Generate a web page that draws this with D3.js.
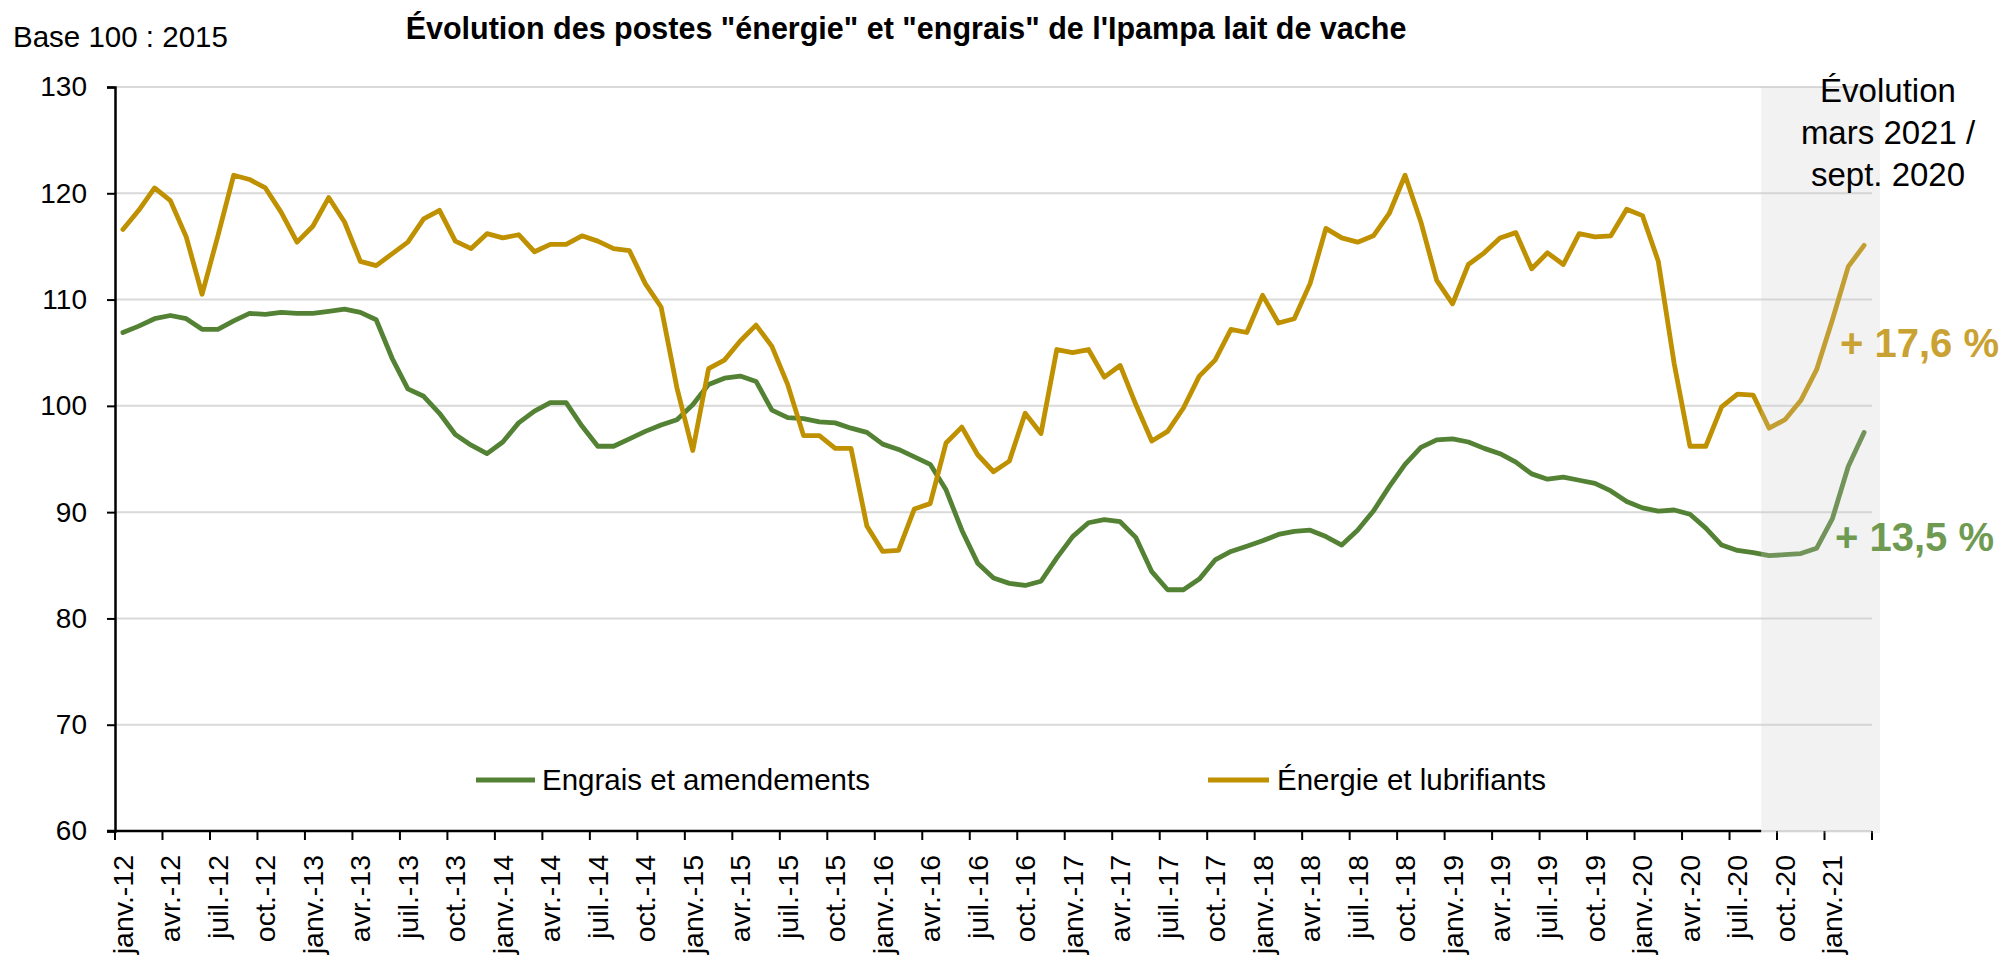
<!DOCTYPE html>
<html>
<head>
<meta charset="utf-8">
<script src="https://cdn.jsdelivr.net/npm/d3@7"></script>
<style>
  html, body { margin: 0; padding: 0; background: #fff; }
  svg { display: block; }
  text { font-family: "Liberation Sans", Arial, Helvetica, sans-serif; }
</style>
</head>
<body>
<svg id="chart" width="2006" height="955"></svg>
<script>
// ---------- DATA ----------
const monthNames = ["janv.", "févr.", "mars", "avr.", "mai", "juin", "juil.", "août", "sept.", "oct.", "nov.", "déc."];
const years = ["12", "13", "14", "15", "16", "17", "18", "19", "20", "21"];
const lastMonthCount = 3; // data runs to mars 2021

const categories = [];
years.forEach((yy, yi) => {
  const n = yi === years.length - 1 ? lastMonthCount : 12;
  for (let m = 0; m < n; m++) categories.push(monthNames[m] + "-" + yy);
});

const engrais = [
  106.9, 107.5, 108.2, 108.5, 108.2, 107.2, 107.2, 108.0, 108.7, 108.6, 108.8, 108.7,
  108.7, 108.9, 109.1, 108.8, 108.1, 104.5, 101.6, 100.9, 99.3, 97.3, 96.3, 95.5,
  96.6, 98.4, 99.5, 100.3, 100.3, 98.1, 96.2, 96.2, 96.9, 97.6, 98.2, 98.7,
  100.1, 102.0, 102.6, 102.8, 102.3, 99.6, 98.9, 98.8, 98.5, 98.4, 97.9, 97.5,
  96.4, 95.9, 95.2, 94.5, 92.1, 88.3, 85.2, 83.8, 83.3, 83.1, 83.5, 85.7,
  87.7, 89.0, 89.3, 89.1, 87.6, 84.4, 82.7, 82.7, 83.7, 85.5, 86.3, 86.8,
  87.3, 87.9, 88.2, 88.3, 87.7, 86.9, 88.3, 90.1, 92.4, 94.5, 96.1, 96.8,
  96.9, 96.6, 96.0, 95.5, 94.7, 93.6, 93.1, 93.3, 93.0, 92.7, 92.0, 91.0,
  90.4, 90.1, 90.2, 89.8, 88.5, 86.9, 86.4, 86.2, 85.9, 86.0, 86.1, 86.6,
  89.4, 94.3, 97.5
];

const energie = [
  116.6, 118.4, 120.5, 119.3, 115.9, 110.5, 116.0, 121.7, 121.3, 120.5, 118.2, 115.4,
  116.9, 119.6, 117.3, 113.6, 113.2, 114.3, 115.4, 117.6, 118.4, 115.5, 114.8, 116.2,
  115.8, 116.1, 114.5, 115.2, 115.2, 116.0, 115.5, 114.8, 114.6, 111.5, 109.3, 101.7,
  95.8, 103.5, 104.3, 106.1, 107.6, 105.6, 102.0, 97.2, 97.2, 96.0, 96.0, 88.7,
  86.3, 86.4, 90.3, 90.8, 96.5, 98.0, 95.4, 93.8, 94.8, 99.3, 97.4, 105.3,
  105.0, 105.3, 102.7, 103.8, 100.1, 96.7, 97.6, 99.8, 102.8, 104.3, 107.2, 106.9,
  110.4, 107.8, 108.2, 111.5, 116.7, 115.8, 115.4, 116.0, 118.1, 121.7, 117.3, 111.8,
  109.6, 113.3, 114.4, 115.8, 116.3, 112.9, 114.4, 113.3, 116.2, 115.9, 116.0, 118.5,
  117.9, 113.6, 104.0, 96.2, 96.2, 99.9, 101.1, 101.0, 97.9, 98.7, 100.5, 103.4,
  108.1, 113.1, 115.1
];

const seriesNames = ["Engrais et amendements", "Énergie et lubrifiants"];
const yTicks = [60, 70, 80, 90, 100, 110, 120, 130];
const labelMonths = ["janv.", "avr.", "juil.", "oct."];
const shadeStart = "sept.-20";
const title = "Évolution des postes \"énergie\" et \"engrais\" de l'Ipampa lait de vache";
const yUnit = "Base 100 : 2015";
const noteLines = ["Évolution", "mars 2021 /", "sept. 2020"];
const changeLabels = ["+ 13,5 %", "+ 17,6 %"];

// ---------- STYLE ----------
const colGreen = "#548235";
const colGold = "#BF9000";
const plot = { left: 115, right: 1872, top: 87, bottom: 831 };

const svg = d3.select("#chart");

const x = d3.scaleBand().domain(categories).range([plot.left, plot.right]).padding(0);
const y = d3.scaleLinear().domain([60, 130]).range([plot.bottom, plot.top]);
const bw = x.bandwidth();
const cx = c => x(c) + bw / 2;

// gridlines
svg.append("g").selectAll("line").data(yTicks).join("line")
  .attr("x1", plot.left).attr("x2", plot.right)
  .attr("y1", d => y(d)).attr("y2", d => y(d))
  .attr("stroke", "#d9d9d9").attr("stroke-width", 2);

// lines
const line = d3.line().x((d, i) => cx(categories[i])).y(d => y(d)).curve(d3.curveLinear);
svg.append("path").datum(engrais).attr("d", line)
  .attr("fill", "none").attr("stroke", colGreen).attr("stroke-width", 4.8)
  .attr("stroke-linejoin", "round").attr("stroke-linecap", "round");
svg.append("path").datum(energie).attr("d", line)
  .attr("fill", "none").attr("stroke", colGold).attr("stroke-width", 4.8)
  .attr("stroke-linejoin", "round").attr("stroke-linecap", "round");

// y axis
const yAxis = d3.axisLeft(y).tickValues(yTicks).tickSize(8).tickPadding(20);
const gy = svg.append("g").attr("transform", `translate(${plot.left},0)`).call(yAxis);
gy.select(".domain").attr("stroke", "#000").attr("stroke-width", 2.5);
gy.selectAll(".tick line").attr("stroke", "#000").attr("stroke-width", 2);
gy.selectAll(".tick text").attr("font-size", 28).attr("fill", "#000")
  .attr("font-family", "Liberation Sans, Arial, sans-serif");

// x axis: domain line up to shade, tick marks at quarter boundaries
const shadeX = x(shadeStart);
svg.append("line").attr("x1", plot.left - 8).attr("x2", shadeX)
  .attr("y1", plot.bottom).attr("y2", plot.bottom)
  .attr("stroke", "#000").attr("stroke-width", 2.5);
const tickCats = categories.filter((c, i) => i % 3 === 0);
const tickXs = tickCats.map(c => x(c)).concat([plot.right]);
svg.append("g").selectAll("line").data(tickXs).join("line")
  .attr("x1", d => d).attr("x2", d => d)
  .attr("y1", plot.bottom).attr("y2", plot.bottom + 9)
  .attr("stroke", "#000").attr("stroke-width", 2);

const labelCats = categories.filter(c => labelMonths.includes(c.split("-")[0]));
const xAxis = d3.axisBottom(x).tickValues(labelCats).tickSize(0);
const gx = svg.append("g").attr("transform", `translate(0,${plot.bottom})`).call(xAxis);
gx.select(".domain").remove();
gx.selectAll(".tick text")
  .attr("font-size", 28.5).attr("fill", "#000")
  .attr("font-family", "Liberation Sans, Arial, sans-serif")
  .attr("transform", "rotate(-90)")
  .attr("text-anchor", "end")
  .attr("x", -24).attr("y", 0).attr("dy", "0.35em");

// shaded period (overlay)
svg.append("rect")
  .attr("x", shadeX).attr("y", plot.top)
  .attr("width", 1880 - shadeX).attr("height", plot.bottom + 2 - plot.top)
  .attr("fill", "rgb(203,203,203)").attr("fill-opacity", 0.25);

// change labels
svg.append("text").attr("x", 1840).attr("y", 357)
  .attr("font-size", 40).attr("font-weight", "bold").attr("fill", "#C9A233")
  .text(changeLabels[1]);
svg.append("text").attr("x", 1835).attr("y", 551)
  .attr("font-size", 40).attr("font-weight", "bold").attr("fill", "#6F9A52")
  .text(changeLabels[0]);

// note
svg.append("g").selectAll("text").data(noteLines).join("text")
  .attr("x", 1888).attr("y", (d, i) => 102 + i * 42)
  .attr("text-anchor", "middle").attr("font-size", 33).attr("fill", "#000")
  .text(d => d);

// title & unit
svg.append("text").attr("x", 906).attr("y", 39).attr("text-anchor", "middle")
  .attr("font-size", 30.5).attr("font-weight", "bold").attr("fill", "#000").text(title);
svg.append("text").attr("x", 13).attr("y", 47)
  .attr("font-size", 29.5).attr("fill", "#000").text(yUnit);

// legend
const legend = [
  { name: seriesNames[0], color: colGreen, x1: 476, x2: 535, tx: 542 },
  { name: seriesNames[1], color: colGold, x1: 1208, x2: 1269, tx: 1277 }
];
const lg = svg.append("g").selectAll("g").data(legend).join("g");
lg.append("line").attr("x1", d => d.x1).attr("x2", d => d.x2)
  .attr("y1", 780).attr("y2", 780).attr("stroke", d => d.color).attr("stroke-width", 4.8);
lg.append("text").attr("x", d => d.tx).attr("y", 780).attr("dy", "0.35em")
  .attr("font-size", 29.5).attr("fill", "#000").text(d => d.name);
</script>
</body>
</html>
